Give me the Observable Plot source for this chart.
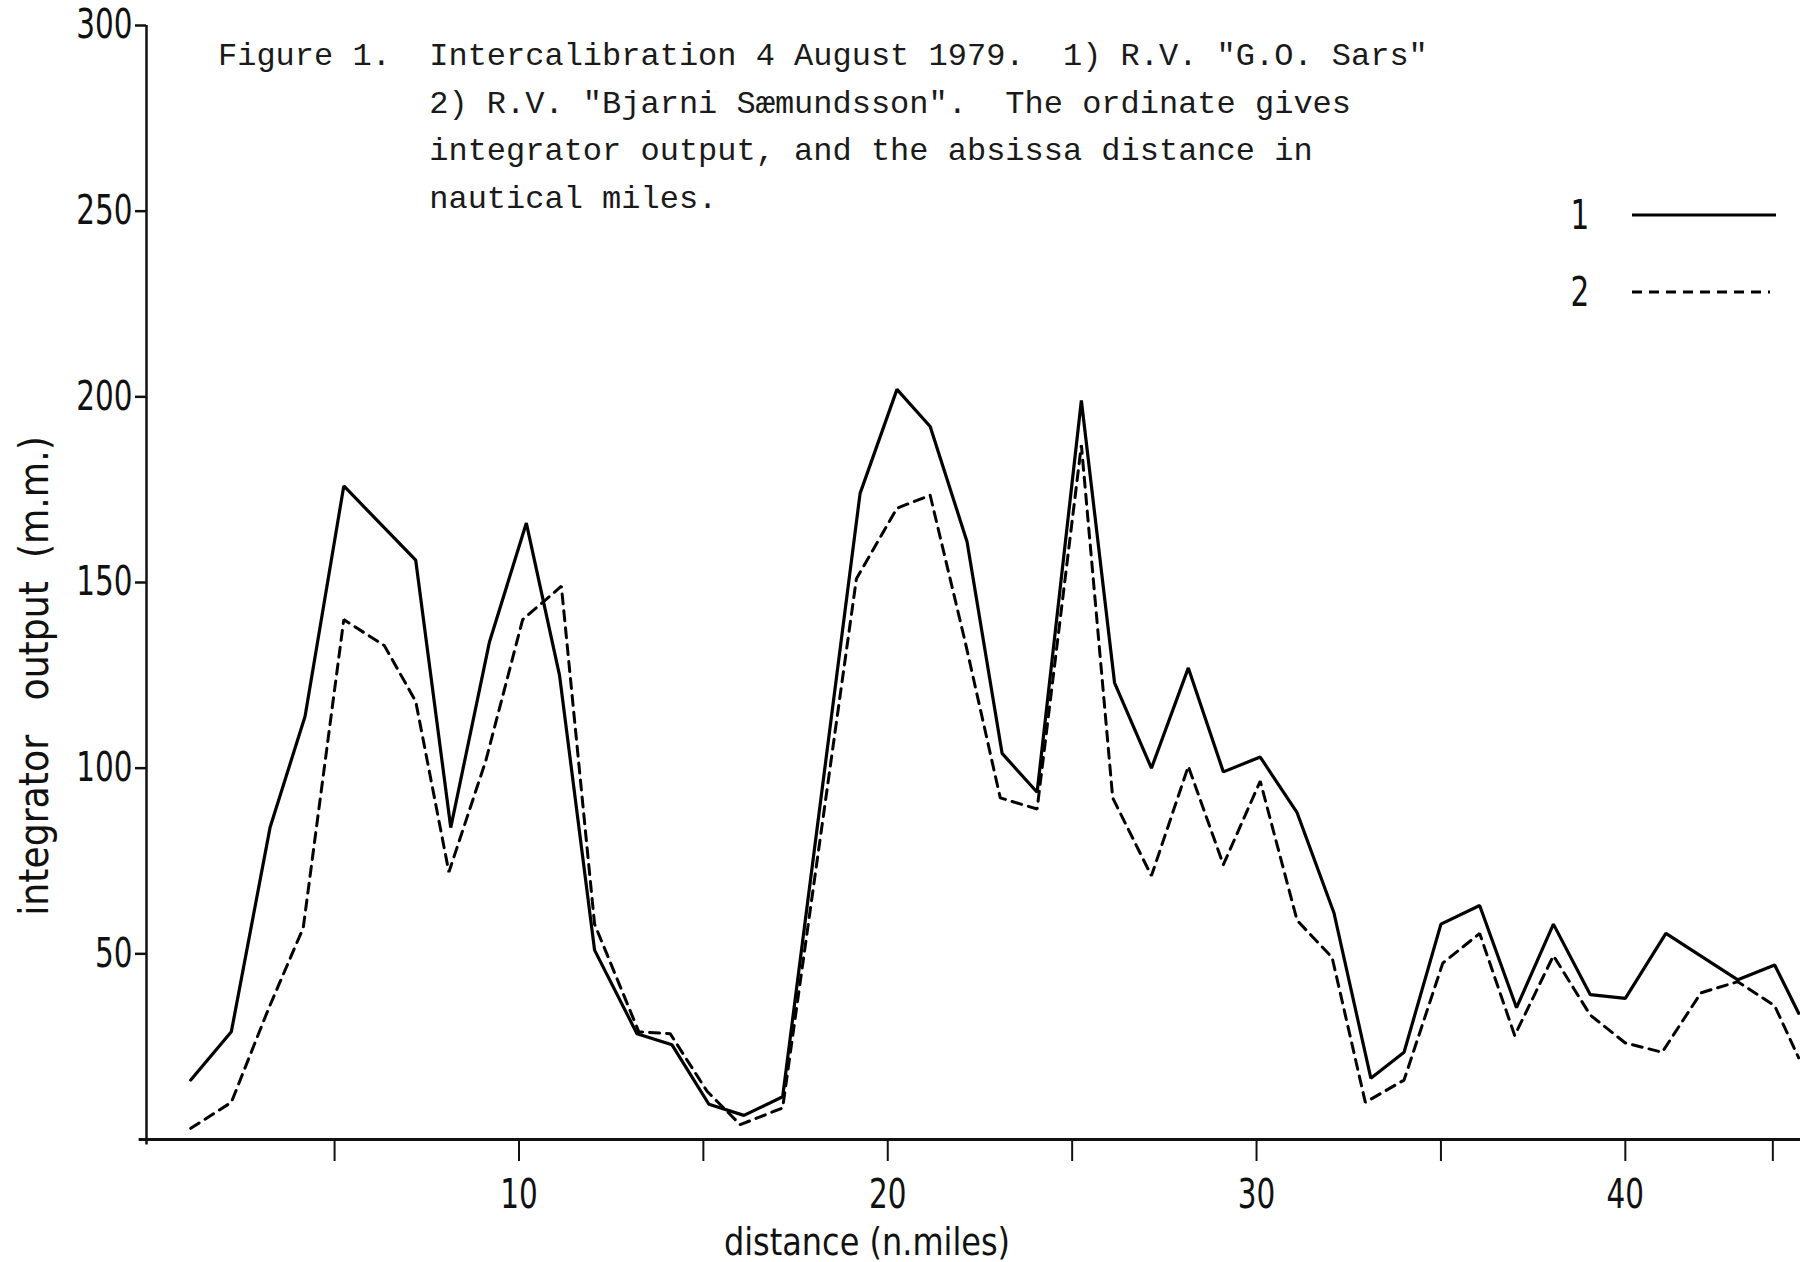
<!DOCTYPE html>
<html><head><meta charset="utf-8">
<script src="https://cdn.jsdelivr.net/npm/d3@7"></script>
<script src="https://cdn.jsdelivr.net/npm/@observablehq/plot@0.6"></script>
<style>
html,body{margin:0;padding:0;background:#fff;}
#wrap{position:relative;width:1800px;height:1262px;overflow:hidden;background:#fff;}
.cap{position:absolute;left:218px;top:33px;font-family:"Liberation Mono","DejaVu Sans Mono",monospace;font-size:32px;line-height:47.5px;white-space:pre;color:#1a1a1a;}
.lab{position:absolute;font-family:"Liberation Sans Narrow","DejaVu Sans Condensed",sans-serif;white-space:pre;color:#111;line-height:1;}
#ylab{left:34px;top:676px;font-size:41.5px;transform:translate(-50%,-50%) rotate(-90deg) scaleX(0.97);}
#xlab{left:867px;top:1242px;font-size:37px;transform:translate(-50%,-50%) scaleX(0.96);}
#legend{position:absolute;left:1550px;top:180px;}
</style></head><body><div id="wrap"></div>
<script>
// Series 1: R.V. "G.O. Sars" (solid)
const distance1 = [1.1, 2.2, 3.25, 4.2, 5.25, 7.2, 8.15, 9.2, 10.2, 11.1, 12.05, 13.2, 14.15, 15.15, 16.1, 17.15, 19.25, 20.25, 21.15, 22.15, 23.1, 24.05, 25.25, 26.15, 27.15, 28.15, 29.1, 30.1, 31.1, 32.1, 33.1, 34.0, 35.0, 36.05, 37.05, 38.05, 39.05, 40.0, 41.1, 43.05, 44.05, 44.7];
const output1   = [16, 29, 84, 114, 176, 156, 84, 134, 166, 125, 51, 28.5, 25.5, 9.5, 6.5, 11.5, 174, 202, 192, 161, 104, 93.5, 199, 123, 100, 127, 99, 103, 88, 61, 16.5, 23.5, 58, 63, 35.5, 58, 39, 38, 55.5, 43, 47, 34];
// Series 2: R.V. "Bjarni Sæmundsson" (dashed)
const distance2 = [1.1, 2.2, 3.2, 4.15, 5.25, 6.35, 7.2, 8.1, 9.1, 10.1, 11.15, 12.05, 13.25, 14.1, 15.1, 16.0, 17.15, 19.15, 20.25, 21.15, 22.1, 23.05, 24.05, 25.25, 26.1, 27.15, 28.15, 29.1, 30.1, 31.1, 32.05, 32.95, 34.0, 35.05, 36.05, 37.0, 38.05, 39.05, 40.0, 41.0, 42.05, 43.05, 44.05, 44.7];
const output2   = [3, 10, 35, 57, 140, 133, 118, 72, 102, 140, 149, 58, 29, 28.5, 13, 4, 8.5, 151, 170, 173.5, 134, 92, 89, 187, 92, 71, 100.5, 74, 96.5, 59, 49, 10, 16, 47.5, 55.5, 28, 49.5, 33.5, 26, 23.5, 39.5, 42.5, 36, 22];

const seriesNames = ["1", "2"];
const yTicks = [50, 100, 150, 200, 250, 300];
const xLabelTicks = [10, 20, 30, 40];
const xMinorTicks = [5, 15, 25, 35, 44];
const yLabel = "integrator   output  (m.m.)";
const xLabel = "distance (n.miles)";
const captionLines = [
  'Figure 1.  Intercalibration 4 August 1979.  1) R.V. "G.O. Sars"',
  '           2) R.V. "Bjarni Sæmundsson".  The ordinate gives',
  '           integrator output, and the absissa distance in',
  '           nautical miles.'
];

const dashes = {"1": null, "2": "10,7"};
const rows = [
  ...distance1.map((d, i) => ({series: seriesNames[0], distance: d, output: output1[i]})),
  ...distance2.map((d, i) => ({series: seriesNames[1], distance: d, output: output2[i]}))
];

const narrow = '"Liberation Sans Narrow","DejaVu Sans Condensed",sans-serif';

const chart = Plot.plot({
  width: 1800, height: 1262,
  marginTop: 25, marginBottom: 123, marginLeft: 146, marginRight: 0,
  x: {domain: [-0.1, 44.75]},
  y: {domain: [0, 300]},
  style: {fontFamily: narrow, fontSize: "40px", color: "#111", background: "white", overflow: "visible"},
  marks: [
    Plot.ruleY([0], {x1: -0.3, x2: 44.75, stroke: "#111", strokeWidth: 3}),
    Plot.ruleX([-0.1], {y1: -1.5, y2: 300, stroke: "#111", strokeWidth: 2.5}),
    Plot.axisY({ticks: yTicks, tickSize: 11, tickPadding: 3, strokeWidth: 2.5, label: null, fontSize: 40}),
    Plot.axisX({ticks: xMinorTicks, tickSize: 22, strokeWidth: 2, tickFormat: () => "", label: null}),
    Plot.axisX({ticks: xLabelTicks, tickSize: 22, tickPadding: 18, strokeWidth: 2, label: null, fontSize: 40}),
    ...seriesNames.map(s => Plot.line(rows.filter(r => r.series === s), {
      x: "distance", y: "output", stroke: "#000", strokeWidth: s === "1" ? 3.2 : 3,
      strokeDasharray: dashes[s], strokeLinejoin: "miter", curve: "linear"
    }))
  ]
});

// narrow the tick-label glyphs to match the condensed lettering
d3.select(chart).selectAll("g[aria-label$='tick label'] text").each(function () {
  const t = this.getAttribute("transform") || "";
  this.setAttribute("transform", t + " scale(0.82,1)");
});

const wrap = document.getElementById("wrap");
wrap.appendChild(chart);

const cap = document.createElement("div");
cap.className = "cap";
cap.textContent = captionLines.join("\n");
wrap.appendChild(cap);

const yl = document.createElement("div");
yl.className = "lab"; yl.id = "ylab"; yl.textContent = yLabel;
wrap.appendChild(yl);
const xl = document.createElement("div");
xl.className = "lab"; xl.id = "xlab"; xl.textContent = xLabel;
wrap.appendChild(xl);

// legend
const leg = d3.select(wrap).append("svg").attr("id", "legend").attr("width", 240).attr("height", 140);
const item = leg.selectAll("g").data(seriesNames).join("g")
  .attr("transform", (d, i) => `translate(0,${35 + i * 77})`);
item.append("text").text(d => d).attr("transform", "translate(30,14) scale(0.82,1)").attr("text-anchor", "middle")
  .style("font-family", narrow).style("font-size", "40px").attr("fill", "#111");
item.append("line").attr("x1", 82).attr("x2", d => d === "1" ? 226 : 220).attr("y1", 0).attr("y2", 0)
  .attr("stroke", "#000").attr("stroke-width", 3).attr("stroke-dasharray", d => dashes[d]);
</script>
</body></html>
